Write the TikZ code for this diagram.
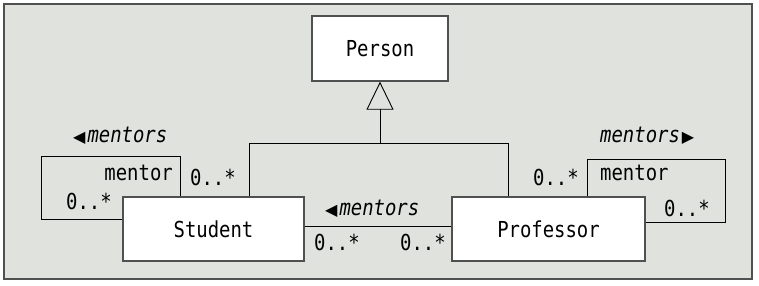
\documentclass[tikz,border=0pt]{standalone}
\usepackage{fontspec}
\setmainfont[FakeStretch=0.86]{DejaVu Sans Mono}
\newfontfamily\symfont{DejaVu Sans}
\usetikzlibrary{arrows.meta}
\definecolor{bgc}{RGB}{224,226,222}
\definecolor{bordc}{RGB}{80,80,80}
\newcommand{\leftarr}{{\upshape\symfont\fontsize{16}{16}\selectfont ◀}\hspace{2pt}}
\newcommand{\rightarr}{\hspace{2pt}{\upshape\symfont\fontsize{16}{16}\selectfont ▶}}
\begin{document}
\begin{tikzpicture}[x=1pt,y=-1pt,
  cls/.style={draw=bordc,line width=1.3pt,fill=white,inner sep=0pt,font=\fontsize{22}{22}\selectfont},
  lbl/.style={inner sep=0pt,font=\fontsize{22}{22}\selectfont},
  conn/.style={draw=black,line width=0.9pt}]
\useasboundingbox (0,0) rectangle (759,285);
\node[draw=bordc,line width=1.6pt,fill=bgc,minimum width=748pt,minimum height=275pt,inner sep=0pt] (frame) at (378,141.5) {};
% classes
\node[cls,minimum width=136pt,minimum height=65pt] (person) at (380,48.5) {Person};
\node[cls,minimum width=181pt,minimum height=64pt] (student) at (213.5,229) {Student};
\node[cls,minimum width=193pt,minimum height=64pt] (prof) at (548.5,229) {Professor};
% generalization
\coordinate (junc) at (380,143);
\coordinate (sgen) at (249,143);
\coordinate (pgen) at (508,143);
\draw[conn] (student.north -| sgen) -- (sgen) -- (pgen) -- (prof.north -| pgen);
\draw[conn,-{Triangle[open,length=28pt,width=27pt,line width=0.9pt]}] (junc) -- (person.south);
% student self association
\coordinate (sl1) at (180,156);
\coordinate (sl2) at (41,219);
\draw[conn] (student.north -| sl1) -- (sl1) -| (sl2) -- (student.west |- sl2);
% professor self association
\coordinate (pl1) at (587,159);
\coordinate (pl2) at (725,222);
\draw[conn] (prof.north -| pl1) -- (pl1) -| (pl2) -- (prof.east |- pl2);
% student-professor association
\coordinate (mid) at (304,226);
\draw[conn] (student.east |- mid) -- (prof.west |- mid);
% labels
\node[lbl,anchor=west] (lm1) at (73,136) {\leftarr\itshape mentors};
\node[lbl,anchor=east] (lr1) at (173,173) {mentor};
\node[lbl,anchor=west] (lmu1) at (66,201) {0..*};
\node[lbl,anchor=west] (lmu2) at (190,177) {0..*};
\node[lbl,anchor=west] (lm2) at (325,209) {\leftarr\itshape mentors};
\node[lbl,anchor=west] (lmu3) at (314,242) {0..*};
\node[lbl,anchor=west] (lmu4) at (400,242) {0..*};
\node[lbl,anchor=west] (lmu5) at (533,177) {0..*};
\node[lbl,anchor=west] (lr2) at (600,173) {mentor};
\node[lbl,anchor=west] (lmu6) at (664,208) {0..*};
\node[lbl,anchor=west] (lm3) at (600,136) {\itshape mentors\rightarr};
\end{tikzpicture}
\end{document}
